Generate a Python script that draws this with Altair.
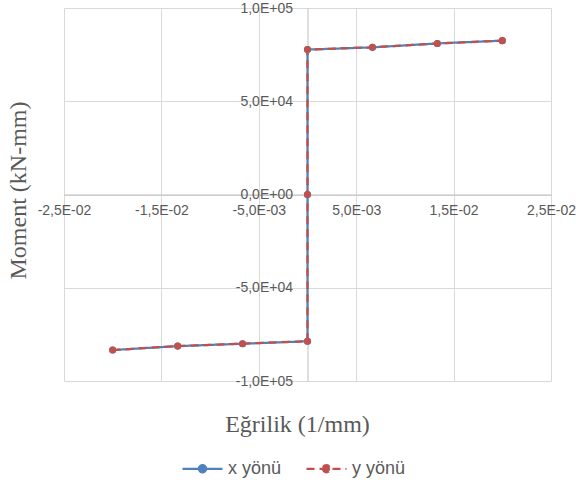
import altair as alt
import pandas as pd

# Data
curvature = [-0.02, -0.01333, -0.00667, 0.0, 0.0, 0.0, 0.00667, 0.01333, 0.02]
moment = [-83400, -81300, -80000, -78700, 0, 77700, 78900, 81000, 82500]
series_names = ["x yönü", "y yönü"]
series_colors = ["#4F81BD", "#C0504D"]
series_dash = [[1, 0], [8, 5]]
x_ticks = [-0.025, -0.015, -0.005, 0.005, 0.015, 0.025]
y_ticks = [-100000, -50000, 0, 50000, 100000]

rows = []
for s in series_names:
    for i, (cx, my) in enumerate(zip(curvature, moment)):
        rows.append({"series": s, "order": i, "curv": cx, "moment": my})
df = pd.DataFrame(rows)

W, H = 487, 373

lab = ("replace(replace(split(format(datum.value,'.1e'),'e')[0],'.',','),'\u2212','-') + 'E' + "
       "substring(split(format(datum.value,'.1e'),'e')[1],0,1) + "
       "(length(split(format(datum.value,'.1e'),'e')[1]) < 3 ? '0' : '') + "
       "substring(split(format(datum.value,'.1e'),'e')[1],1)")

LABEL_FONT = "Liberation Sans"
TITLE_FONT = "Liberation Serif"

x_enc = alt.X(
    "curv:Q",
    scale=alt.Scale(domain=[-0.025, 0.025], nice=False, zero=False),
    axis=alt.Axis(
        values=x_ticks, labelExpr=lab, orient="bottom", offset=-H / 2,
        grid=True, gridColor="#D9D9D9", gridWidth=1,
        domainColor="#BFBFBF", domainWidth=1, ticks=False, tickSize=0,
        labelPadding=9, labelFont=LABEL_FONT, labelFontSize=14,
        labelColor="#595959", labelOverlap=False, labelFlush=False,
        labelBound=False,
        title="Eğrilik (1/mm)", titleFont=TITLE_FONT, titleFontSize=24,
        titleFontWeight="normal", titleColor="#595959",
        titleX=233, titleY=230, titleAlign="center", titleBaseline="middle",
    ),
)
y_enc = alt.Y(
    "moment:Q",
    scale=alt.Scale(domain=[-100000, 100000], nice=False, zero=False),
    axis=alt.Axis(
        values=y_ticks, labelExpr=lab, orient="left", offset=-W / 2,
        grid=True, gridColor="#D9D9D9", gridWidth=1,
        domainColor="#BFBFBF", domainWidth=1, ticks=False, tickSize=0,
        labelPadding=15, labelFont=LABEL_FONT, labelFontSize=14,
        labelColor="#595959", labelOverlap=False, labelFlush=False,
        title="Moment (kN-mm)", titleFont=TITLE_FONT, titleFontSize=24,
        titleFontWeight="normal", titleColor="#595959",
        titleX=-(W / 2 + 46), titleY=182, titleAlign="center",
        titleBaseline="middle", titleAngle=-90,
    ),
)

sym_path = ("M-1,0L1,0M-0.18,0A0.18,0.18,0,1,0,0.18,0"
            "A0.18,0.18,0,1,0,-0.18,0Z")

legend_kw = dict(
    title=None, orient="none", direction="horizontal",
    legendX=117, legendY=439, symbolType=sym_path, symbolSize=1600,
    symbolStrokeWidth=2.25, labelFont=LABEL_FONT, labelFontSize=18,
    labelColor="#595959", labelOffset=4, columnPadding=20, padding=0,
    symbolOpacity=1,
)

lines = alt.Chart(df).mark_line(strokeWidth=2.25).encode(
    x=x_enc,
    y=y_enc,
    order="order:Q",
    color=alt.Color(
        "series:N",
        scale=alt.Scale(domain=series_names, range=series_colors),
        legend=alt.Legend(**legend_kw),
    ),
    strokeDash=alt.StrokeDash(
        "series:N",
        scale=alt.Scale(domain=series_names, range=series_dash),
        legend=alt.Legend(**legend_kw),
    ),
)

points = alt.Chart(df).mark_circle(size=50, opacity=1).encode(
    x=alt.X("curv:Q"),
    y=alt.Y("moment:Q"),
    fill=alt.Fill(
        "series:N",
        scale=alt.Scale(domain=series_names, range=series_colors),
        legend=alt.Legend(**legend_kw),
    ),
)

chart = alt.layer(lines, points).properties(
    width=W,
    height=H,
    autosize=alt.AutoSizeParams(type="none"),
    padding={"left": 64, "top": 8, "right": 25, "bottom": 104},
    background="white",
).configure_view(stroke=None)

chart.save("out.html", embed_options={"renderer": "svg", "actions": False})
